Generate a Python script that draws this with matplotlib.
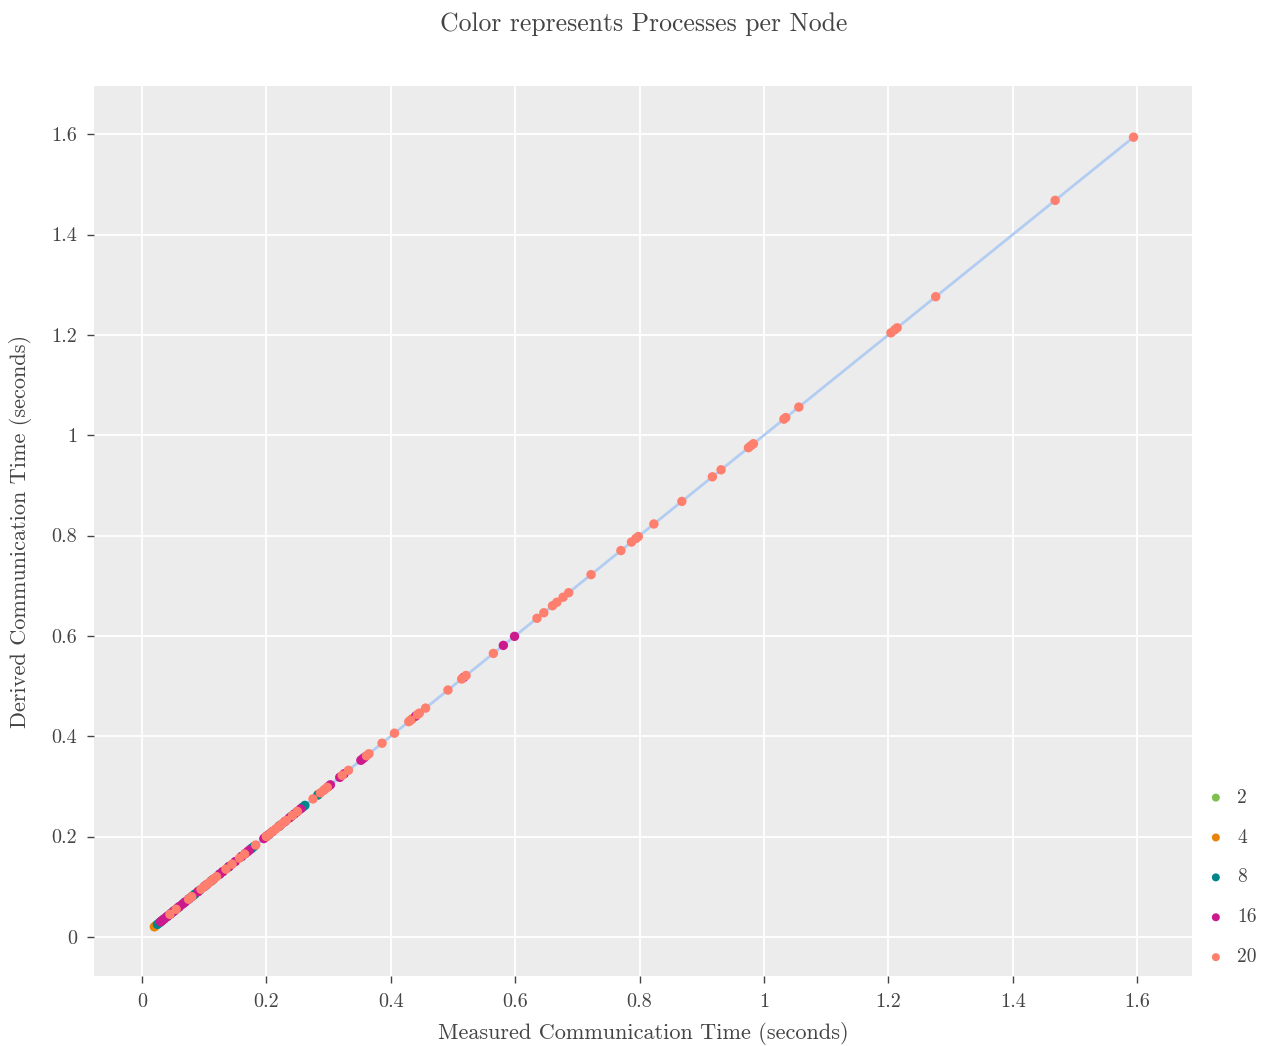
import matplotlib
matplotlib.use("Agg")
import matplotlib.pyplot as plt
from matplotlib.ticker import FuncFormatter, MultipleLocator

plt.rcParams["font.family"] = ["cmr10", "DejaVu Serif"]
plt.rcParams["axes.formatter.use_mathtext"] = True

# processes per node -> measured communication times (derived ~ measured)
groups = ["2", "4", "8", "16", "20"]
colors = ["#7fbf4f", "#e8830c", "#00868b", "#cc1a8e", "#ff7f6e"]

measured = {
    "2": [0.032, 0.058, 0.083, 0.112, 0.138, 0.176],
    "4": [0.020, 0.022, 0.030, 0.050, 0.090, 0.130, 0.200, 0.283, 0.434],
    "8": [0.025, 0.028, 0.031, 0.035, 0.040, 0.046, 0.052, 0.060, 0.068,
          0.076, 0.085, 0.093, 0.102, 0.111, 0.125, 0.140, 0.160, 0.176,
          0.180, 0.205, 0.222, 0.240, 0.258, 0.262, 0.283],
    "16": [0.030, 0.033, 0.036, 0.040, 0.043, 0.046, 0.050, 0.053, 0.057,
           0.060, 0.065, 0.070, 0.075, 0.080, 0.090, 0.100, 0.105, 0.115,
           0.125, 0.130, 0.140, 0.150, 0.160, 0.166, 0.170, 0.173, 0.196,
           0.200, 0.203, 0.210, 0.220, 0.230, 0.237, 0.245, 0.250, 0.255,
           0.300, 0.303, 0.318, 0.325, 0.352, 0.355, 0.358, 0.440, 0.517,
           0.581, 0.599],
    "20": [0.045, 0.055, 0.075, 0.080, 0.095, 0.100, 0.105, 0.110, 0.115,
           0.120, 0.135, 0.145, 0.157, 0.165, 0.183, 0.200, 0.205, 0.210,
           0.215, 0.220, 0.226, 0.232, 0.242, 0.250, 0.275, 0.287, 0.292,
           0.295, 0.298, 0.322, 0.332, 0.361, 0.365, 0.386, 0.406, 0.429,
           0.432, 0.443, 0.446, 0.456, 0.492, 0.514, 0.521, 0.565, 0.635,
           0.646, 0.660, 0.667, 0.677, 0.686, 0.722, 0.770, 0.787, 0.794,
           0.798, 0.823, 0.868, 0.917, 0.931, 0.975, 0.979, 0.983, 1.032,
           1.035, 1.056, 1.204, 1.210, 1.214, 1.276, 1.468, 1.594],
}
derived = {k: list(v) for k, v in measured.items()}

fit_x = [0.020, 1.594]
fit_y = [0.020, 1.594]

text_col = "#444444"

fig = plt.figure(figsize=(12.68, 10.46), dpi=100)
ax = fig.add_axes([94 / 1268, 1 - 976 / 1046, 1098 / 1268, 890 / 1046])
ax.set_facecolor("#ececec")
for s in ax.spines.values():
    s.set_visible(False)

ax.plot(fit_x, fit_y, color="#b3cdf2", lw=2, zorder=2)
for g, c in zip(groups, colors):
    ax.scatter(measured[g], derived[g], s=46, color=c, edgecolors="none",
               label=g, zorder=3)

ax.set_xlim(-0.077, 1.688)
ax.set_ylim(-0.078, 1.696)
ax.xaxis.set_major_locator(MultipleLocator(0.2))
ax.yaxis.set_major_locator(MultipleLocator(0.2))
fmt = FuncFormatter(lambda v, p: f"{round(v, 2):g}")
ax.xaxis.set_major_formatter(fmt)
ax.yaxis.set_major_formatter(fmt)
ax.grid(True, color="white", lw=1.3, zorder=0)
ax.set_axisbelow(True)
ax.tick_params(length=5, width=1, color=text_col, labelcolor=text_col,
               labelsize=14.5, pad=7)

ax.set_xlabel("Measured Communication Time (seconds)", fontsize=16,
              color=text_col, labelpad=8)
ax.set_ylabel("Derived Communication Time (seconds)", fontsize=16,
              color=text_col, labelpad=14)
fig.suptitle("Color represents Processes per Node", fontsize=18.5,
             color=text_col, x=0.508, y=0.988)

leg = ax.legend(loc="lower left", bbox_to_anchor=(1.004, 0.0), frameon=False,
                fontsize=14, labelcolor=text_col, handletextpad=0.6,
                handlelength=1.0, labelspacing=1.13, markerscale=0.85,
                borderaxespad=0.1, borderpad=0.4)

fig.savefig("out.png", dpi=100)
